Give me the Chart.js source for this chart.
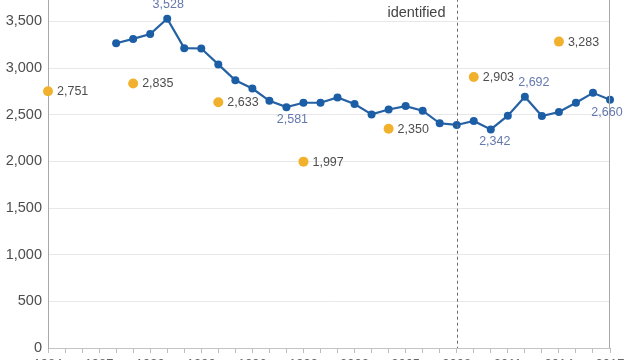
<!DOCTYPE html>
<html>
<head>
<meta charset="utf-8">
<script src="https://cdn.jsdelivr.net/npm/chart.js@4/dist/chart.umd.min.js"></script>
<style>
  html, body { margin: 0; padding: 0; background: #ffffff; overflow: hidden; width: 640px; height: 360px; }
  #wrap { position: absolute; left: 0; top: -40px; width: 640px; height: 418px; }
</style>
</head>
<body>
<div id="wrap"><canvas id="c" width="640" height="418"></canvas></div>
<script>
// ---- data ----
const xLabels = ['1984','1985','1986','1987','1988','1989','1990','1991','1992','1993','1994','1995','1996','1997','1998','1999','2000','2001','2002','2003','2004','2005','2006','2007','2008','2009','2010','2011','2012','2013','2014','2015','2016','2017'];
const annualValues = [null,null,null,null,3266,3312,3365,3528,3213,3209,3039,2869,2780,2649,2581,2628,2628,2684,2614,2503,2556,2592,2543,2408,2390,2433,2342,2489,2692,2486,2528,2628,2734,2660];
const surveyValues = [2751,null,null,null,null,2835,null,null,null,null,2633,null,null,null,null,1997,null,null,null,null,2350,null,null,null,null,2903,null,null,null,null,3283,null,null,null];
const annualLabelIdx = [7,14,26,28,33];
const annualLabelSide = ['above','below','below','above','below'];
const markerIndex = 24;
const markerText = 'identified';
const yTicks = [0,500,1000,1500,2000,2500,3000,3500,4000];

// label nudges (style only)
const annualLabelDx = [1,6,4,9,-3];

const fmt = v => v.toLocaleString('en-US');
const FONT = '"Liberation Sans", Arial, Helvetica, sans-serif';

const annotate = {
  id: 'annotate',
  afterDatasetsDraw(chart) {
    const ctx = chart.ctx, ca = chart.chartArea;
    const xs = chart.scales.x, ys = chart.scales.y;
    ctx.save();
    // right border line
    ctx.strokeStyle = '#a8a8a8'; ctx.lineWidth = 1;
    ctx.beginPath(); ctx.moveTo(Math.round(ca.right) - 0.5, ca.top); ctx.lineTo(Math.round(ca.right) - 0.5, ca.bottom); ctx.stroke();
    // dashed marker line
    const mx = Math.round(xs.getPixelForValue(markerIndex)) + 0.5;
    ctx.strokeStyle = '#6a6a6a'; ctx.setLineDash([3,3]);
    ctx.beginPath(); ctx.moveTo(mx, ca.top); ctx.lineTo(mx, ca.bottom); ctx.stroke();
    ctx.setLineDash([]);
    ctx.fillStyle = '#444'; ctx.font = '14.5px ' + FONT;
    ctx.textAlign = 'right'; ctx.textBaseline = 'alphabetic';
    ctx.fillText(markerText, mx - 12, 56.5);
    // survey labels
    ctx.font = '12.5px ' + FONT; ctx.fillStyle = '#4d4d4d';
    ctx.textAlign = 'left'; ctx.textBaseline = 'middle';
    surveyValues.forEach((v, i) => {
      if (v == null) return;
      ctx.fillText(fmt(v), xs.getPixelForValue(i) + 9, ys.getPixelForValue(v) + 0.5);
    });
    // annual labels
    ctx.fillStyle = '#6578ae'; ctx.textAlign = 'center';
    annualLabelIdx.forEach((i, k) => {
      const v = annualValues[i];
      const px = xs.getPixelForValue(i), py = ys.getPixelForValue(v);
      const dy = annualLabelSide[k] === 'above' ? -14 : 12.5;
      ctx.fillText(fmt(v), px + annualLabelDx[k], py + dy);
    });
    ctx.restore();
  }
};

new Chart(document.getElementById('c'), {
  type: 'line',
  data: {
    labels: xLabels,
    datasets: [
      {
        label: 'Annual',
        data: annualValues,
        borderColor: '#2661a3',
        backgroundColor: '#1c5ea6',
        borderWidth: 2.2,
        pointRadius: 4,
        pointBorderWidth: 0,
        pointBackgroundColor: '#1c5ea6',
        tension: 0,
        spanGaps: false,
        clip: false
      },
      {
        label: 'Survey',
        data: surveyValues,
        showLine: false,
        pointRadius: 5,
        pointBorderWidth: 0,
        pointBackgroundColor: '#f1b12c',
        backgroundColor: '#f1b12c',
        clip: false
      }
    ]
  },
  options: {
    responsive: false,
    animation: false,
    devicePixelRatio: 1,
    layout: { padding: { top: 12, right: 30, bottom: 0, left: 0 } },
    plugins: { legend: { display: false }, tooltip: { enabled: false } },
    scales: {
      x: {
        type: 'category',
        offset: false,
        grid: { display: true, drawOnChartArea: false, drawTicks: true, tickLength: 5, color: '#bdbdbd' },
        border: { display: true, color: '#c4c4c4' },
        ticks: {
          autoSkip: false, maxRotation: 0, minRotation: 0, padding: 4,
          color: '#666', font: { family: FONT, size: 13 },
          callback: function (val, idx) { return idx % 3 === 0 ? xLabels[idx] : ''; }
        },
        afterFit: s => { s.height = 30; }
      },
      y: {
        min: 0, max: 4000,
        afterBuildTicks: s => { s.ticks = yTicks.map(v => ({ value: v })); },
        grid: { color: '#e8e8e8', drawTicks: false },
        border: { display: true, color: '#a8a8a8' },
        ticks: {
          padding: 6, color: '#4d4d4d', font: { family: FONT, size: 14.5 },
          callback: v => fmt(v)
        },
        afterFit: s => { s.width = 48; }
      }
    }
  },
  plugins: [annotate]
});
</script>
</body>
</html>
